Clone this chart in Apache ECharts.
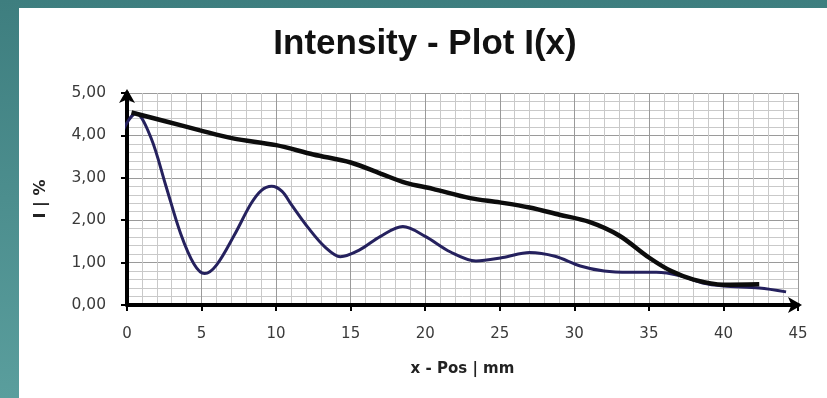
<!DOCTYPE html>
<html>
<head>
<meta charset="utf-8">
<script src="https://cdn.jsdelivr.net/npm/echarts@6/dist/echarts.min.js"></script>
<style>
  html, body { margin: 0; padding: 0; background: #fff; }
  #chart { width: 827px; height: 398px; }
</style>
</head>
<body>
<div id="chart"></div>
<script>
// Intensity profile I(x): measured envelope and oscillating profile
const xTicks = [0, 5, 10, 15, 20, 25, 30, 35, 40, 45];
const yTicks = [0, 1, 2, 3, 4, 5];

const envelopeX = [0.3, 2.5, 4.9, 7.1, 10, 12.5, 15, 17, 18.7, 20.5, 23, 25, 27, 29, 31, 33, 35, 36.5, 38, 40, 42.4];
const envelopeY = [4.54, 4.34, 4.12, 3.93, 3.77, 3.55, 3.36, 3.10, 2.88, 2.74, 2.52, 2.42, 2.30, 2.13, 1.96, 1.64, 1.12, 0.80, 0.60, 0.48, 0.49];

const profileX = [-0.6, 0.0, 0.6, 1.6, 2.6, 3.6, 4.5, 5.2, 6.0, 7.2, 8.3, 9.0, 9.7, 10.4, 11.0, 12.2, 13.3, 14.3, 15.6, 17.0, 18.5, 20.0, 21.7, 23.4, 25.2, 27.0, 28.7, 30.4, 32.0, 33.7, 35.5, 37.1, 38.6, 40.0, 42.4, 44.2];
const profileY = [3.80, 4.30, 4.52, 3.95, 2.82, 1.68, 0.96, 0.74, 0.94, 1.65, 2.38, 2.70, 2.80, 2.68, 2.38, 1.80, 1.36, 1.14, 1.30, 1.62, 1.85, 1.62, 1.25, 1.04, 1.12, 1.24, 1.15, 0.92, 0.80, 0.77, 0.77, 0.69, 0.52, 0.45, 0.40, 0.31];

const envelope = envelopeX.map((x, i) => [x, envelopeY[i]]);
const profile = profileX.map((x, i) => [x, profileY[i]]);

const chart = echarts.init(document.getElementById('chart'), null, { renderer: 'canvas' });

const commaFmt = v => v.toFixed(2).replace('.', ',');

chart.setOption({
  backgroundColor: {
    type: 'linear', x: 0, y: 0, x2: 0, y2: 1,
    colorStops: [{ offset: 0, color: '#3e7e7f' }, { offset: 1, color: '#5a9e9d' }]
  },
  graphic: [{
    type: 'rect', z: -10, silent: true,
    shape: { x: 19, y: 8, width: 808, height: 390 },
    style: { fill: '#ffffff' }
  }],
  title: {
    text: 'Intensity - Plot I(x)',
    left: 420, top: 22, textAlign: 'center',
    textStyle: { fontFamily: 'Liberation Sans', fontWeight: 'bold', fontSize: 35, color: '#111111' }
  },
  animation: false,
  grid: { left: 127, right: 29, top: 93, bottom: 93, containLabel: false },
  xAxis: {
    type: 'value', min: 0, max: 45, interval: 5,
    name: 'x - Pos | mm', nameLocation: 'middle', nameGap: 57,
    nameTextStyle: { fontFamily: 'DejaVu Sans', fontWeight: 'bold', fontSize: 15, color: '#222222' },
    axisLine: { show: true, onZero: false, symbol: ['none', 'arrow'], symbolSize: [12, 14], symbolOffset: [0, 4],
      lineStyle: { color: '#000000', width: 4 } },
    axisTick: { show: true, length: 6, inside: false, lineStyle: { color: '#000000', width: 2 } },
    axisLabel: { margin: 22, fontFamily: 'DejaVu Sans', fontSize: 15, color: '#3a3a3a',
      formatter: v => xTicks.includes(v) ? String(v) : '' },
    splitLine: { show: true, lineStyle: { color: '#9a9a9a', width: 1 } },
    minorTick: { show: false, splitNumber: 5 },
    minorSplitLine: { show: true, lineStyle: { color: '#c9c9c9', width: 1 } }
  },
  yAxis: {
    type: 'value', min: 0, max: 5, interval: 1,
    name: 'I | %', nameLocation: 'middle', nameGap: 78, nameRotate: 90,
    nameTextStyle: { fontFamily: 'DejaVu Sans', fontWeight: 'bold', fontSize: 16, color: '#222222' },
    axisLine: { show: true, onZero: false, symbol: ['none', 'arrow'], symbolSize: [12, 14], symbolOffset: [0, 4],
      lineStyle: { color: '#000000', width: 4 } },
    axisTick: { show: true, length: 6, lineStyle: { color: '#000000', width: 2 } },
    axisLabel: { margin: 21, fontFamily: 'DejaVu Sans', fontSize: 15.5, color: '#3a3a3a',
      formatter: v => yTicks.includes(v) ? commaFmt(v) : '' },
    splitLine: { show: true, lineStyle: { color: '#9a9a9a', width: 1 } },
    minorTick: { show: false, splitNumber: 5 },
    minorSplitLine: { show: true, lineStyle: { color: '#c9c9c9', width: 1 } }
  },
  series: [
    {
      name: 'profile', type: 'line', data: profile, smooth: 0.33, clip: false,
      showSymbol: false, symbol: 'none', z: 3,
      lineStyle: { color: '#25215e', width: 3 }
    },
    {
      name: 'envelope', type: 'line', data: envelope, smooth: 0.33, clip: false,
      showSymbol: false, symbol: 'none', z: 4,
      lineStyle: { color: '#0c0c0c', width: 4.5 }
    }
  ]
});
</script>
</body>
</html>
